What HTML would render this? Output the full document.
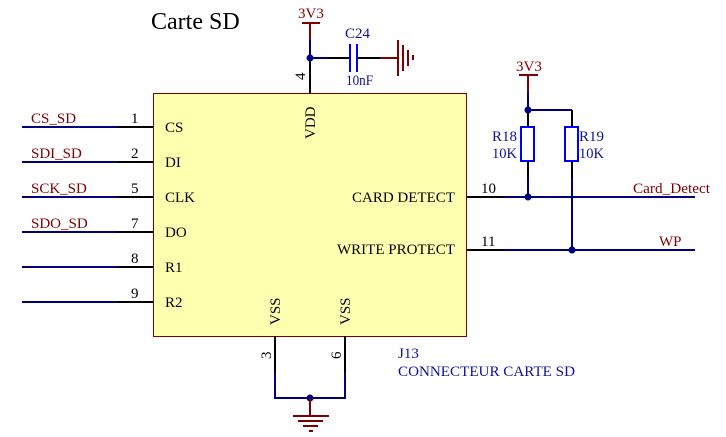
<!DOCTYPE html>
<html><head><meta charset="utf-8"><style>
html,body{margin:0;padding:0;background:#fff}
svg{display:block}
text{font-family:"Liberation Serif",serif;font-size:15px}
.m{fill:#800000}.k{fill:#000}.b{fill:#000080}.c{fill:#101098}
.bl{stroke:#000080;fill:none;stroke-width:2}
.kl{stroke:#000;fill:none;stroke-width:2}
.ml{stroke:#800000;fill:none;stroke-width:2}
</style></head><body>
<svg width="726" height="437" viewBox="0 0 726 437" xmlns="http://www.w3.org/2000/svg">
<rect width="726" height="437" fill="#fff"/>
<rect x="153.5" y="93.5" width="313" height="243" fill="#ffffb0" stroke="#800000" stroke-width="1"/>
<text x="151" y="29" style="font-size:24px" class="k">Carte SD</text>

<!-- left pins -->
<path class="bl" d="M22 127H118M22 162H118M22 197H118M22 232H118M22 267H118M22 302H118"/>
<path class="kl" d="M118 127H153M118 162H153M118 197H153M118 232H153M118 267H153M118 302H153"/>
<text x="31" y="123" class="m">CS_SD</text>
<text x="31" y="158" class="m">SDI_SD</text>
<text x="31" y="193" class="m">SCK_SD</text>
<text x="31" y="228" class="m">SDO_SD</text>
<text x="131" y="123" class="k">1</text>
<text x="131" y="158" class="k">2</text>
<text x="131" y="193" class="k">5</text>
<text x="131" y="228" class="k">7</text>
<text x="131" y="263" class="k">8</text>
<text x="131" y="298" class="k">9</text>
<text x="165" y="132" class="k">CS</text>
<text x="165" y="167" class="k">DI</text>
<text x="165" y="202" class="k">CLK</text>
<text x="165" y="237" class="k">DO</text>
<text x="165" y="272" class="k">R1</text>
<text x="165" y="307" class="k">R2</text>

<!-- top -->
<path class="ml" d="M302 23H320M310 23V40"/>
<path class="bl" d="M310 40V58H328"/>
<path class="kl" d="M310 58V93M328 58H350M357 58H380"/>
<path class="ml" d="M380 58H398"/>
<circle cx="310" cy="58" r="3.5" fill="#000080"/>
<path stroke="#0000ff" stroke-width="2" fill="none" d="M350 44V72M357 44V72"/>
<path class="ml" d="M398 40V76M403 45V71M408 50V66"/>
<path d="M413 55V60" stroke="#800000" stroke-width="2"/>
<text x="298" y="18" class="m">3V3</text>
<text x="345" y="38" class="c">C24</text>
<text x="346" y="85" class="c" textLength="27" lengthAdjust="spacingAndGlyphs">10nF</text>
<text transform="translate(305,80) rotate(-90)" class="k">4</text>
<text transform="translate(315,139) rotate(-90)" class="k">VDD</text>

<!-- right -->
<path class="ml" d="M519 75H538M528 75V92"/>
<path class="bl" d="M528 92V110H572M528 178V197M572 178V250M503 197H695M503 250H695"/>
<path class="kl" d="M528 110V127M528 161V178M572 110V127M572 161V178M467 197H503M467 250H503"/>
<circle cx="528" cy="110" r="3.5" fill="#000080"/>
<circle cx="528" cy="197" r="3.5" fill="#000080"/>
<circle cx="572" cy="250" r="3.5" fill="#000080"/>
<rect x="521" y="127" width="13" height="34" fill="none" stroke="#0000ff" stroke-width="2"/>
<rect x="565" y="127" width="13" height="34" fill="none" stroke="#0000ff" stroke-width="2"/>
<text x="516" y="71" class="m">3V3</text>
<text x="492" y="141" class="c">R18</text>
<text x="492" y="158" class="c" textLength="25" lengthAdjust="spacingAndGlyphs">10K</text>
<text x="579" y="141" class="c">R19</text>
<text x="579" y="158" class="c" textLength="25" lengthAdjust="spacingAndGlyphs">10K</text>
<text x="481" y="193" class="k">10</text>
<text x="481" y="246" class="k">11</text>
<text x="633" y="193" class="m" textLength="77" lengthAdjust="spacingAndGlyphs">Card_Detect</text>
<text x="659" y="246" class="m">WP</text>
<text x="352" y="202" class="k">CARD DETECT</text>
<text x="337" y="254" class="k">WRITE PROTECT</text>

<!-- bottom -->
<path class="kl" d="M275 336V372M345 336V372"/>
<path class="bl" d="M275 372V398H345V372"/>
<circle cx="310" cy="398" r="3.5" fill="#000080"/>
<path class="ml" d="M310 398V416M293 416H329M298 421H323M303 426H318M309 431H313"/>
<text transform="translate(280,325) rotate(-90)" class="k">VSS</text>
<text transform="translate(350,325) rotate(-90)" class="k">VSS</text>
<text transform="translate(271,359) rotate(-90)" class="k">3</text>
<text transform="translate(341,359) rotate(-90)" class="k">6</text>
<text x="398" y="358" class="c">J13</text>
<text x="398" y="376" class="c" textLength="177" lengthAdjust="spacingAndGlyphs">CONNECTEUR CARTE SD</text>
</svg>
</body></html>
